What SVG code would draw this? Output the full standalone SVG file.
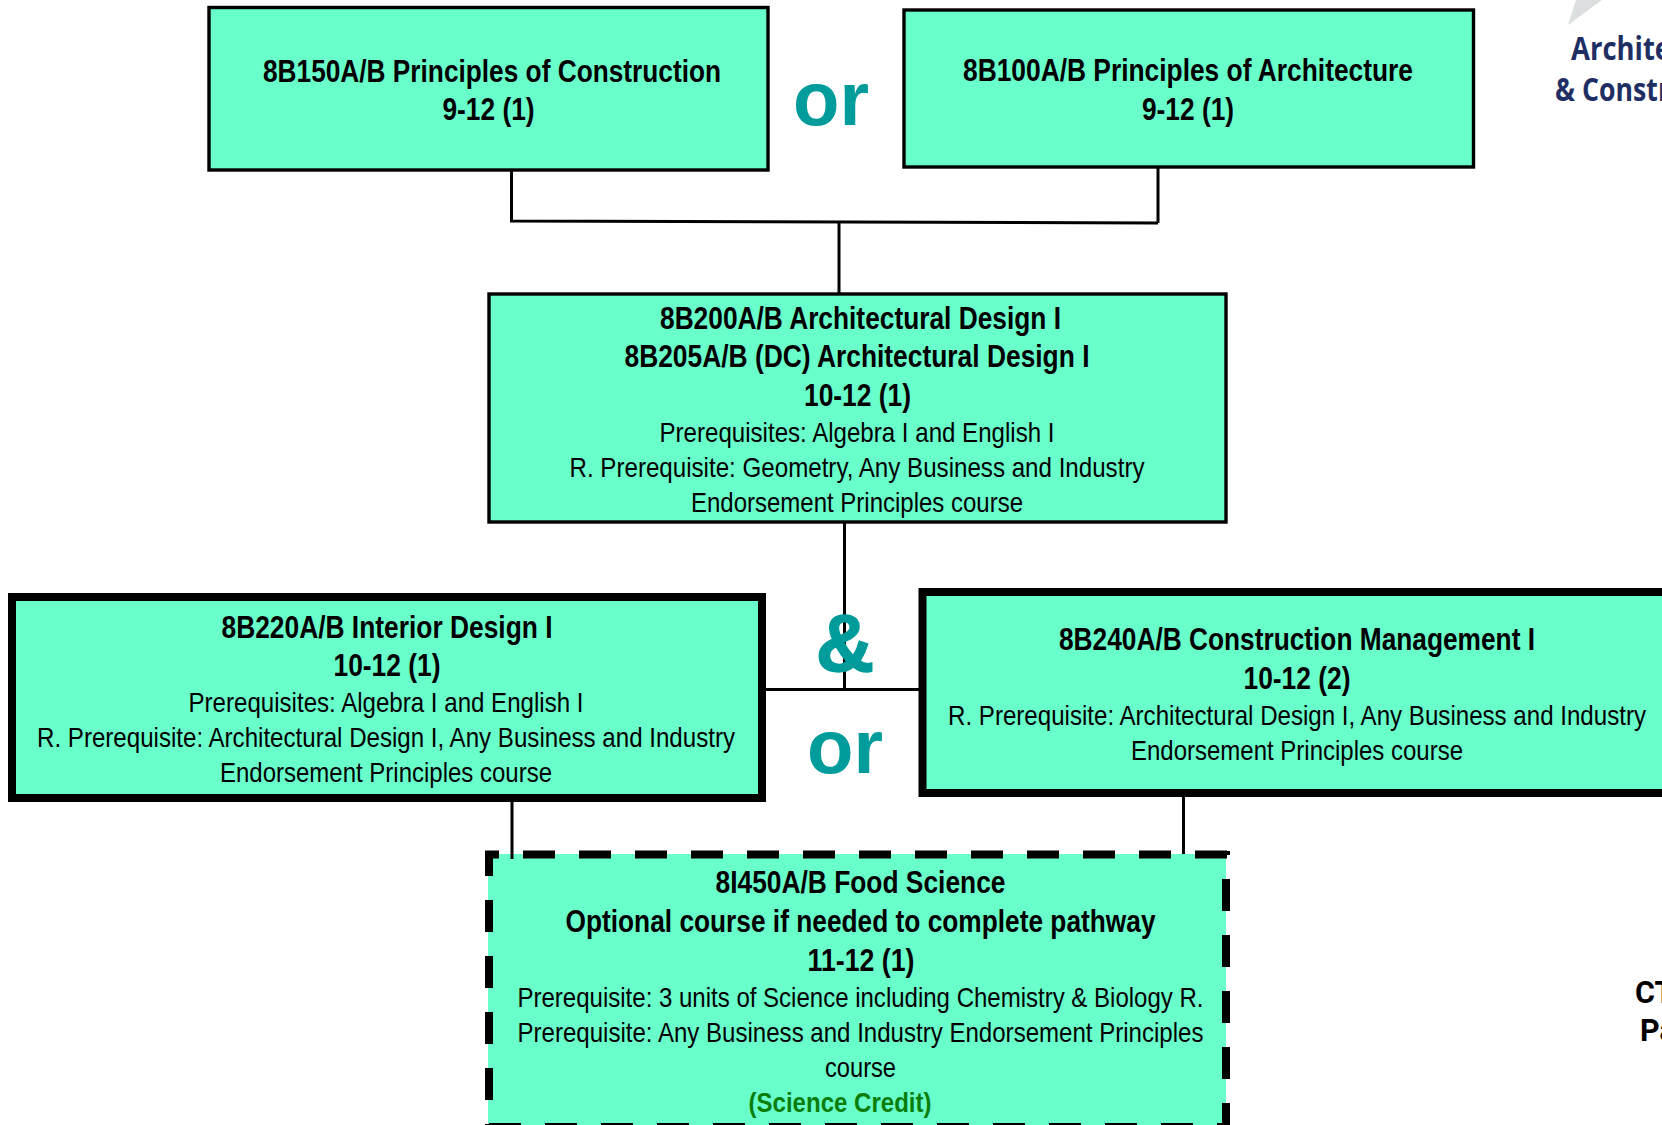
<svg xmlns="http://www.w3.org/2000/svg" width="1662" height="1125" viewBox="0 0 1662 1125">
<style>
text{font-family:"Liberation Sans",Arial,sans-serif;text-anchor:middle;fill:#000}
.b{font-weight:700;font-size:30.5px}
.r{font-size:28.5px}
.box{fill:#69ffcb;stroke:#000;stroke-width:3.4}
.thick{stroke-width:8}
.dash{fill:none;stroke:#000;stroke-width:8;stroke-dasharray:32 24}
.con{stroke:#000;stroke-width:3;fill:none}
.word{font-weight:700;fill:#009b9b}
.logo{font-family:"Open Sans","Noto Sans",sans-serif;font-weight:700;font-size:32px;fill:#1f2f63;text-anchor:start}
.side{font-family:Roboto,"Liberation Sans",sans-serif;text-anchor:start}
</style>
<rect width="1662" height="1125" fill="#fff"/>
<g id="node-construction">
<rect class="box" x="209" y="7.5" width="559" height="162.500"/>
<text class="b" x="492" y="82" textLength="458" lengthAdjust="spacingAndGlyphs">8B150A/B Principles of Construction</text>
<text class="b" x="488.500" y="119.500" textLength="92" lengthAdjust="spacingAndGlyphs">9-12 (1)</text>
</g>
<g id="node-architecture">
<rect class="box" x="904" y="10" width="569.500" height="157"/>
<text class="b" x="1188" y="81" textLength="450" lengthAdjust="spacingAndGlyphs">8B100A/B Principles of Architecture</text>
<text class="b" x="1188" y="119.500" textLength="92" lengthAdjust="spacingAndGlyphs">9-12 (1)</text>
</g>
<g id="node-design">
<rect class="box" x="489" y="294" width="737" height="228"/>
<text class="b" x="860.500" y="329" textLength="401" lengthAdjust="spacingAndGlyphs">8B200A/B Architectural Design I</text>
<text class="b" x="857" y="367" textLength="465" lengthAdjust="spacingAndGlyphs">8B205A/B (DC) Architectural Design I</text>
<text class="b" x="857.500" y="406" textLength="107" lengthAdjust="spacingAndGlyphs">10-12 (1)</text>
<text class="r" x="857" y="442" textLength="395" lengthAdjust="spacingAndGlyphs">Prerequisites: Algebra I and English I</text>
<text class="r" x="857" y="477" textLength="575" lengthAdjust="spacingAndGlyphs">R. Prerequisite: Geometry, Any Business and Industry</text>
<text class="r" x="857" y="512" textLength="332" lengthAdjust="spacingAndGlyphs">Endorsement Principles course</text>
</g>
<g id="node-interior">
<rect class="box thick" x="12" y="597" width="750" height="201"/>
<text class="b" x="387" y="638" textLength="331" lengthAdjust="spacingAndGlyphs">8B220A/B Interior Design I</text>
<text class="b" x="387" y="676" textLength="107" lengthAdjust="spacingAndGlyphs">10-12 (1)</text>
<text class="r" x="386" y="712" textLength="395" lengthAdjust="spacingAndGlyphs">Prerequisites: Algebra I and English I</text>
<text class="r" x="386" y="747" textLength="698" lengthAdjust="spacingAndGlyphs">R. Prerequisite: Architectural Design I, Any Business and Industry</text>
<text class="r" x="386" y="782" textLength="332" lengthAdjust="spacingAndGlyphs">Endorsement Principles course</text>
</g>
<g id="node-management">
<rect class="box thick" x="922.500" y="592" width="760" height="201"/>
<text class="b" x="1297" y="650" textLength="476" lengthAdjust="spacingAndGlyphs">8B240A/B Construction Management I</text>
<text class="b" x="1297" y="689" textLength="107" lengthAdjust="spacingAndGlyphs">10-12 (2)</text>
<text class="r" x="1297" y="725" textLength="698" lengthAdjust="spacingAndGlyphs">R. Prerequisite: Architectural Design I, Any Business and Industry</text>
<text class="r" x="1297" y="760" textLength="332" lengthAdjust="spacingAndGlyphs">Endorsement Principles course</text>
</g>
<g id="node-food">
<rect x="488" y="854" width="738" height="271" fill="#69ffcb"/>
<path class="dash" stroke-dashoffset="18" d="M485 854.500H1230"/>
<path class="dash" stroke-dashoffset="7" d="M489 851V1127"/>
<path class="dash" stroke-dashoffset="28" d="M1226 851V1130"/>
<path class="dash" d="M489 1127H1230"/>
<text class="b" x="860.500" y="893" textLength="290" lengthAdjust="spacingAndGlyphs">8I450A/B Food Science</text>
<text class="b" x="860.500" y="932" textLength="590" lengthAdjust="spacingAndGlyphs">Optional course if needed to complete pathway</text>
<text class="b" x="861" y="971" textLength="107" lengthAdjust="spacingAndGlyphs">11-12 (1)</text>
<text class="r" x="860.500" y="1006.500" textLength="686" lengthAdjust="spacingAndGlyphs">Prerequisite: 3 units of Science including Chemistry &amp; Biology R.</text>
<text class="r" x="860.500" y="1041.500" textLength="686" lengthAdjust="spacingAndGlyphs">Prerequisite: Any Business and Industry Endorsement Principles</text>
<text class="r" x="860.500" y="1076.500" textLength="71" lengthAdjust="spacingAndGlyphs">course</text>
<text class="b" x="840" y="1111.500" textLength="183" lengthAdjust="spacingAndGlyphs" style="fill:#0a7d0a;font-size:28px">(Science Credit)</text>
</g>
<g id="connectors">
<path class="con" d="M511.500 170V221L1158 223"/>
<path class="con" d="M1158 167V223"/>
<path class="con" d="M839 222V294"/>
<path class="con" d="M844.500 522V689.500"/>
<path class="con" d="M763 689.500H922"/>
<path class="con" d="M512 798V859"/>
<path class="con" d="M1183.500 793V854"/>
</g>
<g id="or-1"><text class="word" x="831" y="125" font-size="76">or</text></g>
<g id="amp"><text class="word" x="845" y="670.500" font-size="81" stroke="#009b9b" stroke-width="1.500">&amp;</text></g>
<g id="or-2"><text class="word" x="845" y="773" font-size="76">or</text></g>
<g id="logo">
<polygon points="1568,25 1602,0 1576,0" fill="#dcdfe0"/>
<text class="logo" x="1571" y="60" textLength="100" lengthAdjust="spacingAndGlyphs">Archite</text>
<text class="logo" x="1555" y="101" textLength="115" lengthAdjust="spacingAndGlyphs">&amp; Constr</text>
</g>
<g id="side-label">
<text class="b side" x="1635" y="1003">CT</text>
<text class="b side" x="1640" y="1041">Pa</text>
</g>
</svg>
